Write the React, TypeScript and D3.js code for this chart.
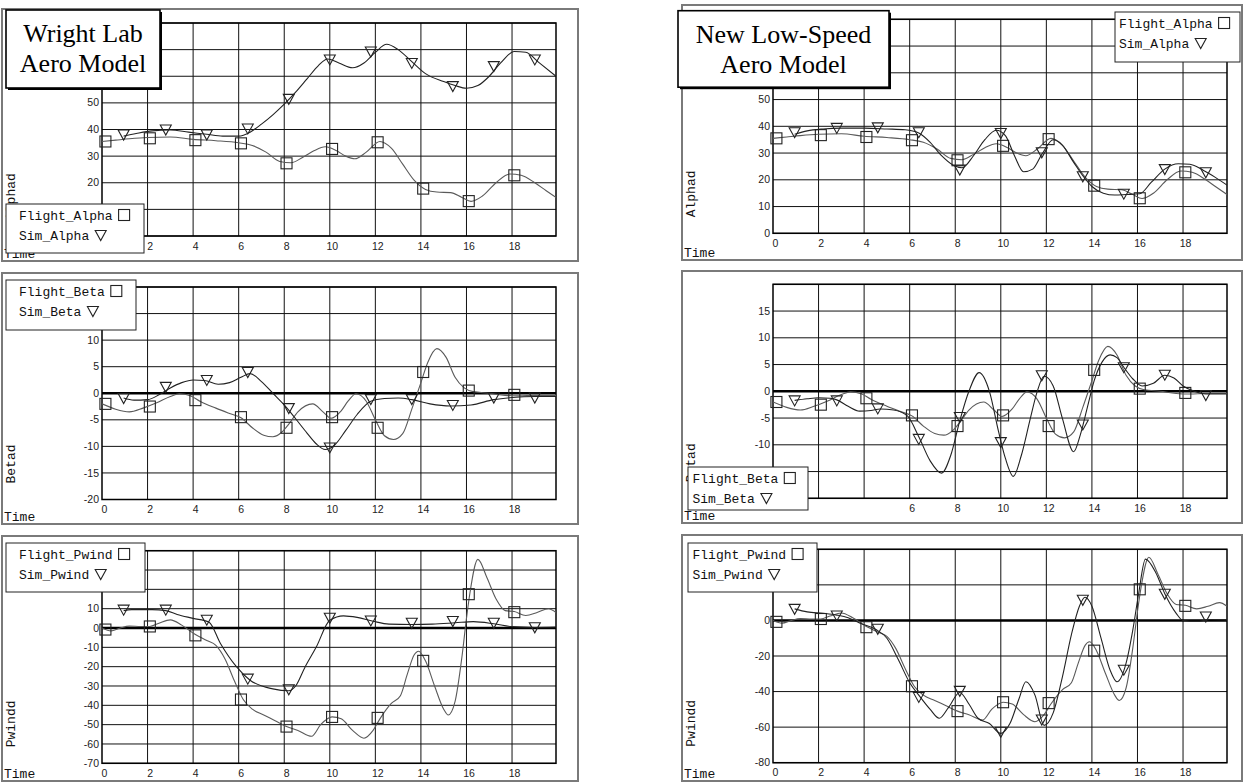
import React from "react";
import * as d3 from "d3";

type Pt = [number, number];

// ---- data ----
const timeTicks = [0, 2, 4, 6, 8, 10, 12, 14, 16, 18];
const alphaTicks = [0, 10, 20, 30, 40, 50, 60, 70, 80];
const betaTicks = [-20, -15, -10, -5, 0, 5, 10, 15, 20];
const pwindTicksWL = [-70, -60, -50, -40, -30, -20, -10, 0, 10, 20, 30, 40];
const pwindTicksNew = [-80, -60, -40, -20, 0, 20, 40];

const flightAlpha: Pt[] = [
  [0, 35.5], [0.6, 36], [1.2, 36.5], [2, 37], [3, 37.2], [4, 36.3], [5, 35.8], [6, 35],
  [6.6, 34], [7.2, 31.5], [7.8, 28], [8.3, 27.5], [8.8, 29.5], [9.3, 32], [9.8, 33.5],
  [10.3, 32], [10.7, 30], [11.1, 29], [11.6, 31.5], [12.2, 35.5], [12.7, 33], [13.2, 27],
  [13.7, 21], [14.2, 17.5], [14.7, 16.5], [15.3, 16.3], [15.8, 14.5], [16.2, 13], [16.7, 15],
  [17.3, 20], [17.9, 23.3], [18.4, 22.8], [19, 20], [19.5, 17], [19.93, 14.5],
];
const simAlphaWL: Pt[] = [
  [0.95, 37.5], [1.5, 38.5], [2.2, 39.5], [3, 39.8], [3.8, 39], [4.6, 38.2], [5.3, 37.5],
  [6, 37.5], [6.5, 39], [7, 42], [7.5, 45.5], [8, 49.5], [8.5, 54], [9, 59], [9.5, 64],
  [9.9, 66.5], [10.4, 65], [11, 63.2], [11.5, 65], [12, 69], [12.5, 72], [13, 70],
  [13.6, 65.5], [14.2, 61], [15, 58], [15.5, 56.5], [16, 55.5], [16.5, 56.5], [17, 60],
  [17.5, 65], [18.1, 69.3], [18.6, 69], [19.2, 65], [19.93, 60],
];
const simAlphaNew: Pt[] = [
  [0.95, 37], [1.5, 38.3], [2.2, 39], [3, 39.3], [4, 39.3], [5, 39], [5.8, 38.7], [6.4, 37.5],
  [6.9, 34], [7.4, 29], [7.9, 25.5], [8.3, 24.5], [8.8, 29], [9.3, 35], [9.8, 38.5],
  [10.2, 36.5], [10.6, 29], [11, 23], [11.4, 24], [11.8, 29.5], [12.3, 35], [12.7, 33],
  [13.2, 26.5], [13.6, 21.5], [14, 17.5], [14.5, 15], [15, 14.3], [15.5, 14.5], [16.1, 14.8],
  [16.6, 19], [17.2, 24], [17.8, 26], [18.3, 25.8], [18.9, 23.5], [19.4, 21], [19.93, 18],
];

const flightBeta: Pt[] = [
  [0, -2], [0.6, -3], [1.2, -3.5], [1.8, -2.8], [2.4, -1.8], [3, -0.6], [3.4, -0.1],
  [3.9, -0.5], [4.3, -1.5], [5, -2.8], [5.6, -3.8], [6.1, -4.6], [6.6, -6.5], [7.1, -7.9],
  [7.5, -8.2], [7.9, -7.3], [8.2, -5.8], [8.6, -3.5], [9.25, -2], [9.7, -3.5], [10.05, -4.7],
  [10.5, -3.3], [10.8, -1.5], [11.15, -0.1], [11.6, -1.5], [12, -5], [12.4, -8], [12.8, -8.7],
  [13.2, -7.6], [13.6, -3], [14, 2], [14.3, 5.8], [14.7, 8.4], [15.1, 6.8], [15.5, 3],
  [15.9, 1], [16.3, 0.3], [17, 0], [17.7, -0.4], [18.3, -0.5], [19, -0.4], [19.93, -0.4],
];
const simBetaWL: Pt[] = [
  [0.95, -0.9], [1.4, -1.3], [2, -1.2], [2.5, -0.3], [3, 1], [3.5, 2], [4, 2.5], [4.5, 2.4],
  [5.1, 1.7], [5.6, 2], [6.1, 3], [6.5, 3.7], [7, 2.2], [7.5, 0], [8, -2.2], [8.5, -4.8],
  [9, -7.5], [9.4, -9.5], [9.8, -10.6], [10.2, -9.8], [10.7, -7], [11.2, -4], [11.8, -1.5],
  [12.4, -1], [13, -0.9], [13.6, -1.2], [14.4, -2], [15.3, -2.4], [16.2, -2.2], [17.2, -1.2],
  [18, -0.8], [19, -0.6], [19.93, -0.6],
];
const simBetaNew: Pt[] = [
  [0.95, -1.7], [1.5, -1.4], [2, -1.2], [2.5, -1.3], [2.8, -1.6], [3.3, -2.8], [3.8, -3.7],
  [4.3, -3.6], [4.7, -3.3], [5.3, -3.5], [5.9, -4.6], [6.4, -8.5], [6.9, -13], [7.4, -15.3],
  [7.8, -12], [8.2, -5.5], [8.6, 0], [9.05, 3.5], [9.5, 0], [9.9, -7.5], [10.2, -12.5],
  [10.55, -15.9], [10.9, -12], [11.3, -5], [11.6, 0], [11.9, 2.8], [12.3, 1], [12.7, -5],
  [13.2, -11.3], [13.5, -8], [13.8, -3], [14.1, 2], [14.45, 5.5], [14.8, 6.8], [15.1, 6.3],
  [15.4, 4.5], [15.8, 2.3], [16.2, 1], [16.7, 1.5], [17.2, 3], [17.6, 2.5], [18, 1],
  [18.5, 0], [19, -0.5], [19.93, -0.5],
];

const flightPwind: Pt[] = [
  [0, 0], [0.4, -1.5], [0.8, 0], [1.2, 1], [1.7, 0.8], [2.1, 0.8], [2.5, 2.5], [3, 4.2],
  [3.5, 1.5], [4.1, -3.4], [4.6, -6.5], [5, -9], [5.4, -16], [5.8, -27], [6.2, -37],
  [6.6, -42], [7.1, -45], [7.6, -48], [8.1, -51], [8.6, -53], [9.2, -56], [9.6, -50],
  [10.1, -46], [10.5, -47], [11, -53], [11.5, -57], [11.9, -53], [12.2, -47], [12.7, -39],
  [13.1, -35], [13.4, -24], [13.7, -14], [13.9, -12], [14.2, -17], [14.6, -30], [15, -42],
  [15.2, -45], [15.5, -38], [15.8, -15], [16, 5], [16.15, 18], [16.5, 35.5], [16.9, 26],
  [17.3, 15], [17.7, 9], [18.1, 8.5], [18.6, 6.5], [19.1, 8], [19.6, 10], [19.93, 8],
];
const simPwindWL: Pt[] = [
  [0.95, 9], [1.3, 9.5], [2.2, 9.5], [2.8, 9], [3.3, 7], [4, 5], [4.7, 3], [5.2, -8],
  [5.9, -20], [6.5, -27], [7.5, -31.5], [8.2, -32.5], [8.5, -30], [8.9, -20.5], [9.4, -10],
  [10, 4], [10.6, 6.3], [11.2, 5.5], [11.9, 3.5], [12.6, 2], [13.6, 1.8], [14.5, 2],
  [15.5, 2.7], [16.3, 3.3], [17.2, 2.2], [18, 0.7], [19, 0.3], [19.93, 0.5],
];
const simPwindNew: Pt[] = [
  [0.95, 6.5], [1.5, 4.8], [2.2, 4], [2.8, 3], [3.3, 1.5], [3.8, -1.5], [4.5, -5], [5, -10],
  [5.5, -22], [6, -35], [6.4, -42], [6.9, -50], [7.3, -55], [7.7, -49], [8.2, -40.5],
  [8.6, -47], [9, -55], [9.5, -58], [10, -63.5], [10.4, -58], [10.8, -44], [11.1, -34.5],
  [11.5, -42], [11.9, -59], [12.3, -52], [12.7, -32], [13.1, -8], [13.45, 8], [13.7, 13],
  [14, 8], [14.4, -10], [14.8, -28], [15.1, -34.5], [15.5, -24], [15.8, -5], [16.05, 15],
  [16.35, 34.5], [16.8, 27], [17.2, 15], [17.7, 4], [18, 0], [18.6, -0.5], [19.2, 0.5],
  [19.93, 0.3],
];

// marker times and values
const flightMarkT = [0.15, 2.1, 4.1, 6.1, 8.1, 10.1, 12.1, 14.1, 16.1, 18.1];
const flightAlphaMarks = [35.5, 36.7, 36, 34.8, 27.3, 32.7, 35.2, 17.8, 13.1, 22.8];
const flightBetaMarks = [-2, -2.5, -1.3, -4.5, -6.5, -4.5, -6.5, 4, 0.5, -0.3];
const flightPwindMarks = [-0.8, 0.8, -3.8, -37, -51, -46, -46.5, -17, 17.5, 8.2];

const simMarkT = [0.95, 2.8, 4.6, 6.4, 8.2, 10, 11.8, 13.6, 15.4, 17.2, 19];
const simAlphaWLMarks = [38.1, 40, 38.1, 40.4, 51.5, 66.3, 69.3, 65, 56.3, 63.8, 66.3];
const simAlphaNewMarks = [37.8, 39.4, 39.6, 37.8, 23.8, 37.5, 30.3, 21.3, 14.8, 24, 22.8];
const simBetaWLMarks = [-0.9, 1.2, 2.5, 4, -2.8, -10.2, -1.1, -1.1, -2.2, -0.8, -0.8];
const simBetaNewMarks = [-1.7, -1.7, -3.2, -8.9, -4.8, -9.5, 3, -6.2, 4.5, 3.1, -0.7];
const simPwindWLMarks = [9.5, 9.5, 4.3, -26.2, -31.7, 5.3, 3.9, 2.7, 3.6, 2.7, 0.4];
const simPwindNewMarks = [6.5, 2.8, -4.7, -43, -39.6, -62.6, -55.7, 11.6, -27.7, 15, 2.2];

// ---- layout ----
const timeDomain: [number, number] = [0, 19.93];
const MONO = "'Liberation Mono', 'DejaVu Sans Mono', monospace";
const SANS = "'Liberation Sans', Arial, sans-serif";
const SERIF = "'Liberation Serif', 'Times New Roman', serif";
const CH = 7.8; // mono char width at 13px

interface PanelDef {
  id: string;
  frame: [number, number, number, number];
  plot: [number, number, number, number];
  yDomain: [number, number];
  yTicks: number[];
  yLabel: string;
  flight: Pt[];
  sim: Pt[];
  flightMarks: number[];
  simMarks: number[];
  names: [string, string];
  legend: { x: number; y: number; w: number; h: number; pad: number };
  zero: boolean;
  hideX?: number[]; // labels covered by the legend / title box in the reference
  hideY?: number[];
}

const panels: PanelDef[] = [
  {
    id: "tl", frame: [2, 9, 578, 261], plot: [102, 23, 556, 236],
    yDomain: [0, 80], yTicks: alphaTicks, yLabel: "Alphad",
    flight: flightAlpha, sim: simAlphaWL, flightMarks: flightAlphaMarks, simMarks: simAlphaWLMarks,
    names: ["Flight_Alpha", "Sim_Alpha"], legend: { x: 6, y: 204, w: 138, h: 49, pad: 13 }, zero: false,
    hideX: [0], hideY: [0, 10, 60, 70, 80],
  },
  {
    id: "ml", frame: [2, 273, 578, 524], plot: [102, 287, 556, 499.5],
    yDomain: [-20, 20], yTicks: betaTicks, yLabel: "Betad",
    flight: flightBeta, sim: simBetaWL, flightMarks: flightBetaMarks, simMarks: simBetaWLMarks,
    names: ["Flight_Beta", "Sim_Beta"], legend: { x: 6, y: 280, w: 130, h: 50, pad: 13 }, zero: true,
    hideY: [15, 20],
  },
  {
    id: "bl", frame: [2, 536, 578, 781], plot: [102, 550.7, 556, 763.3],
    yDomain: [-70, 40], yTicks: pwindTicksWL, yLabel: "Pwindd",
    flight: flightPwind, sim: simPwindWL, flightMarks: flightPwindMarks, simMarks: simPwindWLMarks,
    names: ["Flight_Pwind", "Sim_Pwind"], legend: { x: 6, y: 543, w: 139, h: 49, pad: 13 }, zero: true,
    hideY: [20, 30, 40],
  },
  {
    id: "tr", frame: [682, 5, 1242, 260], plot: [773, 19.3, 1227, 233.3],
    yDomain: [0, 80], yTicks: alphaTicks, yLabel: "Alphad",
    flight: flightAlpha, sim: simAlphaNew, flightMarks: flightAlphaMarks, simMarks: simAlphaNewMarks,
    names: ["Flight_Alpha", "Sim_Alpha"], legend: { x: 1115, y: 12, w: 125, h: 50, pad: 4 }, zero: false,
    hideY: [60, 70, 80],
  },
  {
    id: "mr", frame: [682, 271, 1242, 523], plot: [773, 284.3, 1227, 498.3],
    yDomain: [-20, 20], yTicks: betaTicks, yLabel: "Betad",
    flight: flightBeta, sim: simBetaNew, flightMarks: flightBetaMarks, simMarks: simBetaNewMarks,
    names: ["Flight_Beta", "Sim_Beta"], legend: { x: 688, y: 467, w: 120, h: 43, pad: 4.5 }, zero: true,
    hideX: [0, 2, 4], hideY: [-15, -20, 20],
  },
  {
    id: "br", frame: [682, 535, 1242, 781], plot: [773, 549.3, 1227, 762.7],
    yDomain: [-80, 40], yTicks: pwindTicksNew, yLabel: "Pwindd",
    flight: flightPwind, sim: simPwindNew, flightMarks: flightPwindMarks, simMarks: simPwindNewMarks,
    names: ["Flight_Pwind", "Sim_Pwind"], legend: { x: 688, y: 543, w: 129, h: 49, pad: 4.5 }, zero: true,
    hideY: [20, 40],
  },
];

const titles = [
  { x: 6, y: 10, w: 154, h: 78, lines: ["Wright Lab", "Aero Model"] },
  { x: 678, y: 10.7, w: 211, h: 76.5, lines: ["New Low-Speed", "Aero Model"] },
];

const tri = (cx: number, cy: number, s = 1) =>
  `M${cx - 5.5 * s},${cy - 4.5 * s}L${cx + 5.5 * s},${cy - 4.5 * s}L${cx},${cy + 5.5 * s}Z`;

function Panel({ p }: { p: PanelDef }) {
  const [px0, py0, px1, py1] = p.plot;
  const [fx0, fy0, fx1, fy1] = p.frame;
  const x = d3.scaleLinear().domain(timeDomain).range([px0, px1]);
  const y = d3.scaleLinear().domain(p.yDomain).range([py1, py0]);
  const line = d3
    .line<Pt>()
    .x((d) => x(d[0]))
    .y((d) => y(d[1]))
    .curve(d3.curveMonotoneX);
  const lg = p.legend;
  const symX = (name: string) => lg.x + lg.pad + name.length * CH + 6;
  const hx = p.hideX || [];
  const hy = p.hideY || [];

  return (
    <g>
      <rect x={fx0} y={fy0} width={fx1 - fx0} height={fy1 - fy0} fill="none" stroke="#7a7a7a" strokeWidth={2} />
      <clipPath id={`clip-${p.id}`}>
        <rect x={px0} y={py0} width={px1 - px0} height={py1 - py0} />
      </clipPath>
      {/* grid */}
      {timeTicks.slice(1).map((t) => (
        <line key={`v${t}`} x1={x(t)} x2={x(t)} y1={py0} y2={py1} stroke="#111" strokeWidth={1} />
      ))}
      {p.yTicks.map((v) => (
        <line key={`h${v}`} x1={px0} x2={px1} y1={y(v)} y2={y(v)} stroke="#111" strokeWidth={1} />
      ))}
      {p.zero && <line x1={px0} x2={px1} y1={y(0)} y2={y(0)} stroke="#000" strokeWidth={2.6} />}
      <rect x={px0} y={py0} width={px1 - px0} height={py1 - py0} fill="none" stroke="#000" strokeWidth={1.5} />
      {/* curves */}
      <g clipPath={`url(#clip-${p.id})`}>
        <path d={line(p.flight) || ""} fill="none" stroke="#5a5a5a" strokeWidth={1.1} />
        <path d={line(p.sim) || ""} fill="none" stroke="#222" strokeWidth={1.1} />
      </g>
      {/* markers */}
      {p.flightMarks.map((v, i) => (
        <rect key={`fm${i}`} x={x(flightMarkT[i]) - 5.5} y={y(v) - 5.5} width={11} height={11}
          fill="none" stroke="#222" strokeWidth={1.1} />
      ))}
      {p.simMarks.map((v, i) => (
        <path key={`sm${i}`} d={tri(x(simMarkT[i]), y(v))} fill="none" stroke="#222" strokeWidth={1.1} />
      ))}
      {/* tick labels */}
      {p.yTicks
        .filter((v) => !hy.includes(v))
        .map((v) => (
          <text key={`yl${v}`} x={px0 - 3} y={y(v) + 3.6} textAnchor="end" fontFamily={SANS} fontSize={10.5} fill="#222">
            {v}
          </text>
        ))}
      {timeTicks
        .filter((t) => !hx.includes(t))
        .map((t) => (
          <text key={`xl${t}`} x={x(t) + 2.5} y={py1 + 13.5} textAnchor="middle" fontFamily={SANS} fontSize={10.5} fill="#222">
            {t}
          </text>
        ))}
      <text transform={`translate(${fx0 + 13},${py1 - 16}) rotate(-90)`} fontFamily={MONO} fontSize={13} fill="#111">
        {p.yLabel}
      </text>
      <text x={fx0 + 2} y={fy1 - 3} fontFamily={MONO} fontSize={13} fill="#111">
        Time
      </text>
      {/* legend */}
      <rect x={lg.x} y={lg.y} width={lg.w} height={lg.h} fill="#fff" stroke="#222" strokeWidth={1} />
      <text x={lg.x + lg.pad} y={lg.y + 15.5} fontFamily={MONO} fontSize={13} fill="#111">
        {p.names[0]}
      </text>
      <rect x={symX(p.names[0])} y={lg.y + 5.5} width={11} height={11} fill="none" stroke="#222" strokeWidth={1.1} />
      <text x={lg.x + lg.pad} y={lg.y + 35.5} fontFamily={MONO} fontSize={13} fill="#111">
        {p.names[1]}
      </text>
      <path d={tri(symX(p.names[1]) + 5.5, lg.y + 31)} fill="none" stroke="#222" strokeWidth={1.1} />
    </g>
  );
}

export default function App() {
  return (
    <svg width={1244} height={783} style={{ position: "absolute", left: 0, top: 0, background: "#fff" }}>
      <rect width={1244} height={783} fill="#fff" />
      {panels.map((p) => (
        <Panel key={p.id} p={p} />
      ))}
      {titles.map((t, i) => (
        <g key={i}>
          <rect x={t.x + 2} y={t.y + 2} width={t.w} height={t.h} fill="#000" />
          <rect x={t.x} y={t.y} width={t.w} height={t.h} fill="#fff" stroke="#000" strokeWidth={1.6} />
          {t.lines.map((s, j) => (
            <text key={j} x={t.x + t.w / 2} y={t.y + 32 + j * 30} textAnchor="middle" fontFamily={SERIF} fontSize={26} fill="#000">
              {s}
            </text>
          ))}
        </g>
      ))}
    </svg>
  );
}
